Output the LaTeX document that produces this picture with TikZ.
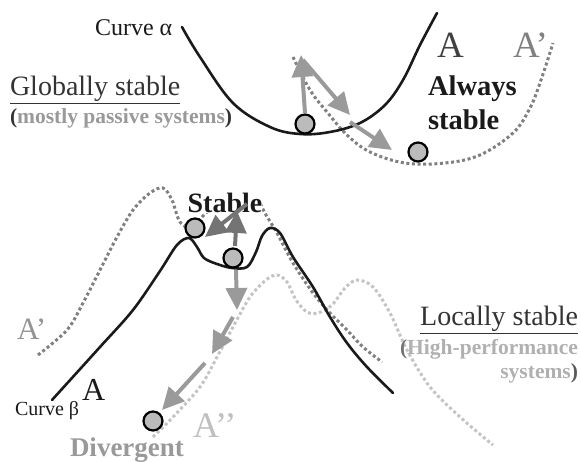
\documentclass[tikz,border=0pt]{standalone}
\usepackage{fontspec}
\setmainfont{Liberation Serif}
\usetikzlibrary{arrows.meta}
\definecolor{curveblack}{HTML}{1A1A1A}
\definecolor{dotdark}{HTML}{808080}
\definecolor{dotlight}{HTML}{C4C4C4}
\definecolor{arrowgray}{HTML}{9A9A9A}
\definecolor{arrowdark}{HTML}{747474}
\definecolor{ballfill}{HTML}{BBBBBB}
\definecolor{txtdark}{HTML}{333333}
\definecolor{txtgray}{HTML}{999999}
\definecolor{txtlight}{HTML}{B0B0B0}
\tikzset{
  solidcurve/.style={curveblack, line width=2.6pt, line cap=round},
  darkdots/.style={dotdark, line width=3pt, dash pattern=on 3pt off 2.6pt},
  lightdots/.style={dotlight, line width=3pt, dash pattern=on 3pt off 2.6pt},
  ball/.style={circle, draw=black, line width=2.2pt, fill=ballfill, minimum size=19pt, inner sep=0pt},
  motion/.style={arrowgray, line width=4pt, -{Triangle[width=21pt,length=22pt]}},
  motiondark/.style={arrowdark, line width=4pt, -{Triangle[width=21pt,length=22pt]}},
  lbl/.style={inner sep=0pt, outer sep=0pt}
}
\begin{document}
\begin{tikzpicture}[x=1pt,y=-1pt]
\useasboundingbox (0,0) rectangle (581,462);
% ---------- top: dotted A'
\draw[darkdots] plot[smooth, tension=0.6] coordinates {(293,57) (310,90) (327,112) (347,135) (370,152) (405,163) (445,163) (480,155) (513,133) (530,108) (541,80) (553,43)};
% curve alpha
\draw[solidcurve] plot[smooth, tension=0.6] coordinates {(182,27) (200,57) (233,103) (270,127) (300,134) (330,132) (360,123) (385,105) (403,80) (420,45) (437,13)};
\node[ball] (b1) at (305,124) {};
\node[ball] (b2) at (418,152) {};
% ---------- bottom: dotted A' (dark)
\draw[darkdots] plot[smooth, tension=0.55] coordinates {(38,355) (67,330) (83,303) (100,270) (117,237) (133,210) (150,193) (163,188) (172,200) (180,222) (192,226) (215,205) (240,196) (257,200) (266,215) (277,233) (293,263) (313,293) (330,313) (347,330) (363,347) (382,362)};
% light dotted A''
\draw[lightdots] plot[smooth, tension=0.55] coordinates {(153,437) (173,417) (200,387) (217,357) (233,327) (250,297) (266,280) (277,275) (287,282) (296,300) (307,312) (318,313) (332,305) (345,288) (357,280) (373,287) (390,313) (407,350) (430,387) (460,417) (493,445)};
% curve beta
\draw[solidcurve] plot[smooth, tension=0.55] coordinates {(52,400) (100,347) (133,310) (160,271) (177,245) (189,238) (197,247) (204,258) (217,264) (232,268) (247,267) (256,252) (262,236) (270,228) (280,233) (293,257) (313,287) (330,317) (347,343) (367,367) (393,393)};
\node[ball] (b3) at (195,228) {};
\node[ball] (b4) at (233,258) {};
\node[ball] (b5) at (153,421) {};
% ---------- texts
\node[lbl, anchor=base west, font=\fontsize{24}{28}\selectfont, text=curveblack] (calpha) at (95,36) {Curve α};
\node[lbl, anchor=base west, font=\fontsize{28}{32}\selectfont, text=txtdark] (gstab) at (10,96) {\underline{Globally stable}};
\node[lbl, anchor=base west, font=\fontsize{21.5}{24}\selectfont\bfseries, text=txtgray] (mpass) at (10,124) {\textcolor{txtdark}{(}mostly passive systems\textcolor{txtdark}{)}};
\node[lbl, anchor=base west, font=\fontsize{37}{40}\selectfont, text=black!75] (Atop) at (437,58) {A};
\node[lbl, anchor=base west, font=\fontsize{37}{40}\selectfont, text=black!50] (Aptop) at (513,58) {A’};
\node[lbl, anchor=base west, font=\fontsize{28.5}{30}\selectfont\bfseries, text=curveblack] (always1) at (428,96) {Always};
\node[lbl, anchor=base west, font=\fontsize{28.5}{30}\selectfont\bfseries, text=curveblack] (always2) at (428,130) {stable};
\node[lbl, anchor=base, font=\fontsize{28}{30}\selectfont\bfseries, text=curveblack, fill=white] (stab) at (225,213) {Stable};
\node[lbl, anchor=base west, font=\fontsize{31}{34}\selectfont, text=black!42] (Apbot) at (17,340) {A’};
\node[lbl, anchor=base west, font=\fontsize{32}{34}\selectfont, text=curveblack] (Abot) at (82,400) {A};
\node[lbl, anchor=base west, font=\fontsize{20}{24}\selectfont, text=curveblack] (cbeta) at (15,415) {Curve β};
\node[lbl, anchor=base west, font=\fontsize{36}{40}\selectfont, text=black!25] (App) at (193,437) {A’’};
\node[lbl, anchor=base west, font=\fontsize{27}{30}\selectfont\bfseries, text=txtgray] (diverg) at (70,456) {Divergent};
\node[lbl, anchor=base east, font=\fontsize{28}{32}\selectfont, text=txtdark] (lstab) at (578,326) {\underline{Locally stable}};
\node[lbl, anchor=base east, font=\fontsize{21.5}{24}\selectfont\bfseries, text=txtlight] (hperf1) at (578,355) {\textcolor{black!55}{(}High-performance};
\node[lbl, anchor=base east, font=\fontsize{21.5}{24}\selectfont\bfseries, text=txtlight] (hperf2) at (578,378) {systems\textcolor{black!65}{)}};
% ---------- arrows
\coordinate (a1s) at (305,113);
\coordinate (a1e) at (301,55);
\coordinate (a2s) at (303,60);
\coordinate (a2e) at (350,115);
\coordinate (a3s) at (350,122);
\coordinate (a3e) at (392,150);
\draw[motion] (a1s) -- (a1e);
\draw[motion] (a2s) -- (a2e);
\draw[motion] (a3s) -- (a3e);
\coordinate (c1s) at (235,246);
\coordinate (c1e) at (237,211);
\coordinate (c2s) at (247,204);
\coordinate (c2e) at (205,237);
\coordinate (c3s) at (236,270);
\coordinate (c3e) at (237,310);
\coordinate (c4s) at (233,317);
\coordinate (c4e) at (212,354);
\coordinate (c5s) at (205,363);
\coordinate (c5e) at (162,410);
\draw[motiondark] (c1s) -- (c1e);
\draw[motiondark] (c2s) -- (c2e);
\draw[motion] (c3s) -- (c3e);
\draw[motion] (c4s) -- (c4e);
\draw[motion] (c5s) -- (c5e);
\end{tikzpicture}
\end{document}
